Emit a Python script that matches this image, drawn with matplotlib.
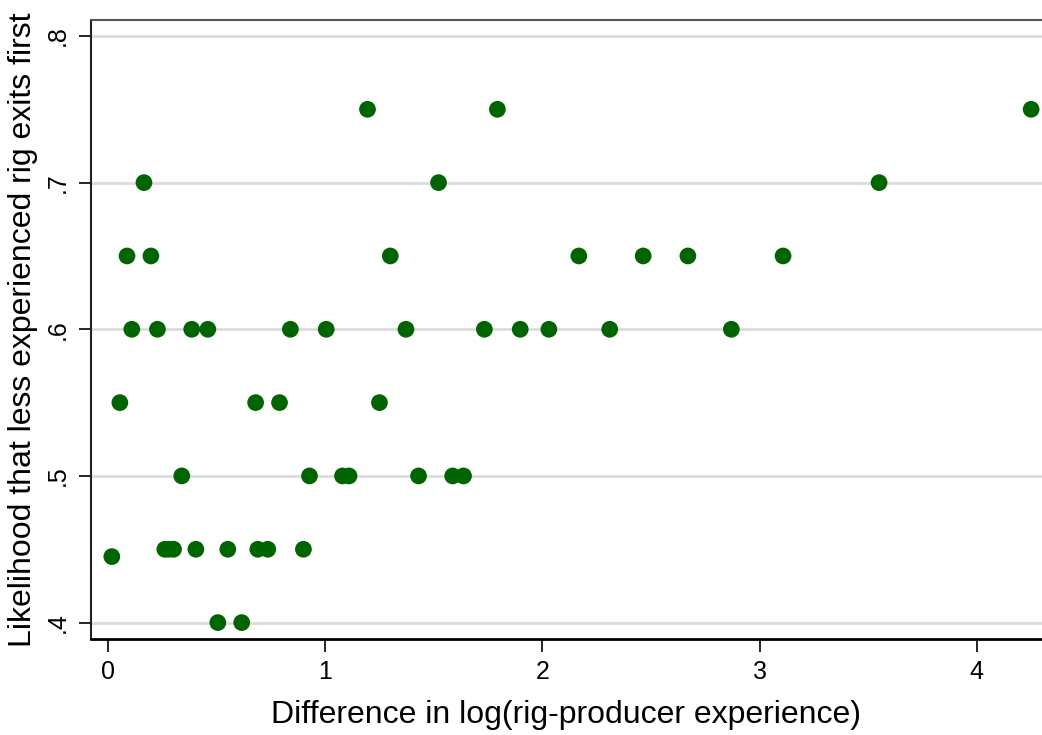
import matplotlib
matplotlib.use('Agg')
import matplotlib.pyplot as plt

plt.rcParams['font.family'] = ['Liberation Sans', 'DejaVu Sans']

# difference in log experience vs likelihood
diff_log_exp = [0.018, 0.055, 0.088, 0.11, 0.166, 0.198, 0.228, 0.262, 0.28, 0.302,
                0.34, 0.386, 0.405, 0.46, 0.506, 0.552, 0.616, 0.68, 0.69, 0.736,
                0.79, 0.84, 0.90, 0.928, 1.005, 1.08, 1.11, 1.195, 1.25, 1.30,
                1.372, 1.43, 1.522, 1.587, 1.637, 1.733, 1.793, 1.898, 2.03, 2.168,
                2.31, 2.464, 2.67, 2.87, 3.108, 3.55, 4.25]
likelihood = [0.445, 0.55, 0.65, 0.6, 0.7, 0.65, 0.6, 0.45, 0.45, 0.45,
              0.5, 0.6, 0.45, 0.6, 0.4, 0.45, 0.4, 0.55, 0.45, 0.45,
              0.55, 0.6, 0.45, 0.5, 0.6, 0.5, 0.5, 0.75, 0.55, 0.65,
              0.6, 0.5, 0.7, 0.5, 0.5, 0.6, 0.75, 0.6, 0.6, 0.65,
              0.6, 0.65, 0.65, 0.6, 0.65, 0.7, 0.75]

xticks = [0, 1, 2, 3, 4]
yticks = [0.4, 0.5, 0.6, 0.7, 0.8]
ytick_labels = ['.4', '.5', '.6', '.7', '.8']

fig = plt.figure(figsize=(10.42, 7.35), dpi=100)
ax = fig.add_axes([0.0873, 0.131, 0.9127, 0.842])

ax.scatter(diff_log_exp, likelihood, s=145, color='#006400', edgecolors='none', zorder=3)

ax.set_xlim(-0.078, 4.30)
ax.set_ylim(0.389, 0.811)
ax.set_xticks(xticks)
ax.set_xticklabels([str(t) for t in xticks])
ax.set_yticks(yticks)
ax.set_yticklabels(ytick_labels, rotation=90, va='center')
ax.yaxis.grid(True, color='#dcdcdc', linewidth=2)
ax.set_axisbelow(True)

ax.tick_params(axis='both', direction='out', length=9, width=1.2, labelsize=18, pad=6)
ax.spines['left'].set_linewidth(1.5)
ax.spines['left'].set_color('#222222')
ax.spines['bottom'].set_linewidth(2)
ax.spines['bottom'].set_color('black')
ax.spines['top'].set_color('#555555')
ax.spines['top'].set_linewidth(1.5)
ax.spines['right'].set_visible(False)

ax.set_xlabel('Difference in log(rig-producer experience)', fontsize=23, labelpad=12)
ax.set_ylabel('Likelihood that less experienced rig exits first', fontsize=23, labelpad=6)

fig.savefig('out.png', dpi=100)
